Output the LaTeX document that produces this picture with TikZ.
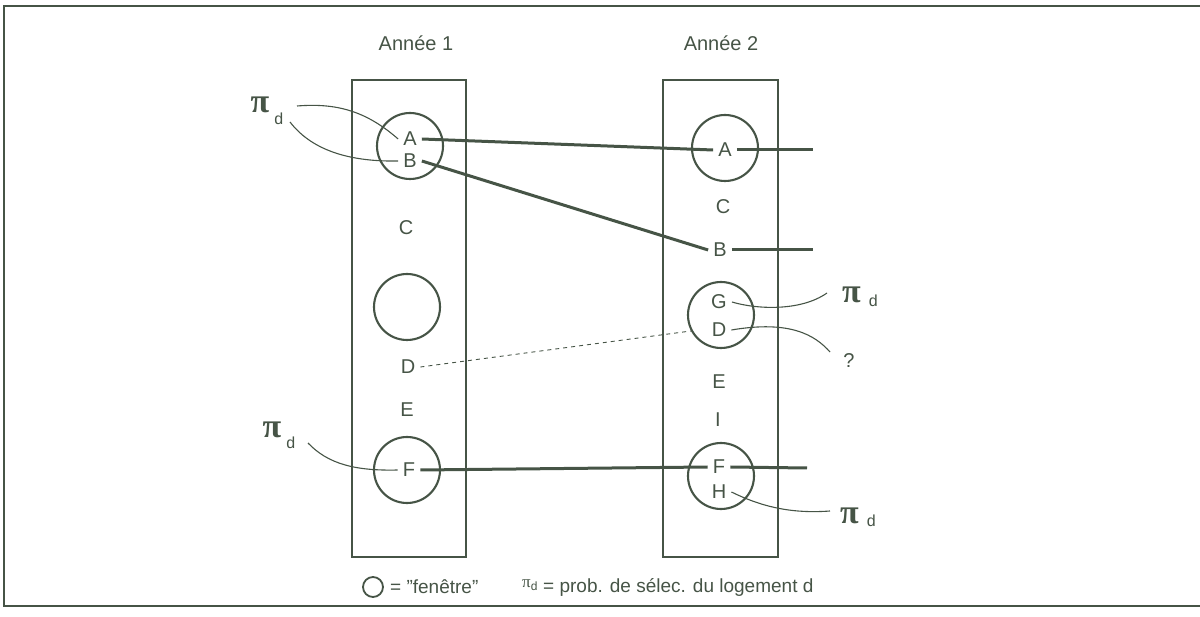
\documentclass[tikz,border=0pt]{standalone}
\usepackage{fontspec}
\setmainfont{Liberation Sans}
\newfontfamily\pifont{Liberation Serif}
\definecolor{ink}{RGB}{70,84,70}
\newcommand\pid[3]{{\pifont\bfseries\fontsize{34}{34}\selectfont π}\hspace{#3}\raisebox{-#2}{\fontsize{16}{16}\selectfont d}}
\begin{document}
\begin{tikzpicture}[x=1pt,y=-1pt,
  every node/.style={text=ink},
  lbl/.style={font=\fontsize{20}{22}\selectfont, inner sep=5pt},
  ttl/.style={font=\fontsize{20}{22}\selectfont, inner sep=1pt},
  leg/.style={font=\fontsize{19}{21}\selectfont, inner sep=0pt, anchor=west},
  win/.style={draw=ink, line width=2.1pt, circle, minimum size=66pt, inner sep=0pt},
  boxline/.style={draw=ink, line width=2.3pt},
  link/.style={draw=ink, line width=3pt},
  thin/.style={draw=ink, line width=1.1pt},
  dashline/.style={draw=ink, line width=0.9pt, dash pattern=on 4pt off 4pt},
]
\useasboundingbox (0,0) rectangle (1200,617);
% frame
\draw[boxline] (1200,6) -- (4,6) -- (4,606) -- (1200,606);
% titles
\node[ttl] (t1) at (416,43) {Année 1};
\node[ttl] (t2) at (721,43) {Année 2};
% boxes
\draw[boxline] (352,80) rectangle (466,557);
\draw[boxline] (663,80) rectangle (778,557);
% left column
\node[win] (w1) at (410,146) {};
\node[lbl] (A1) at (410,139) {A};
\node[lbl] (B1) at (410,161) {B};
\node[lbl] (C1) at (406,228) {C};
\node[win] (w2) at (407,307) {};
\node[lbl] (D1) at (408,367) {D};
\node[lbl] (E1) at (407,410) {E};
\node[win] (w3) at (407,470) {};
\node[lbl] (F1) at (409,470) {F};
% right column
\node[win] (w4) at (725,148) {};
\node[lbl] (A2) at (725,150) {A};
\node[lbl] (C2) at (723,207) {C};
\node[lbl] (B2) at (720,250) {B};
\node[win] (w5) at (721,315) {};
\node[lbl] (G2) at (719,302) {G};
\node[lbl] (D2) at (719,330) {D};
\node[lbl] (E2) at (719,382) {E};
\node[lbl] (I2) at (718,420) {I};
\node[win] (w6) at (721,476) {};
\node[lbl] (F2) at (719,467) {F};
\node[lbl] (H2) at (719,492) {H};
% pi labels
\node[inner sep=0pt] (p1) at (267,111) {\pid{30}{12pt}{5pt}};
\node[inner sep=0pt] (p2) at (279,435) {\pid{30}{11pt}{5pt}};
\node[inner sep=0pt] (p3) at (860,297) {\pid{30}{4pt}{8pt}};
\node[inner sep=0pt] (p4) at (858,517) {\pid{30}{3pt}{8pt}};
\node[font=\fontsize{20}{22}\selectfont, inner sep=1pt] (q) at (849,361) {?};
\coordinate (c1) at (297,106);
\coordinate (c2) at (290,122);
\coordinate (c3) at (308,443);
\coordinate (c4) at (827,293);
\coordinate (c5) at (830,352);
\coordinate (c6) at (830,511);
\coordinate (a2end) at (813,150);
\coordinate (b2end) at (813,250);
\coordinate (f2end) at (807,468);
% thick links
\draw[link] (A1.east) -- (A2.west);
\draw[link] (B1.east) -- (B2.west);
\draw[link] (F1.east) -- (F2.west);
\draw[link] (A2.east) -- (a2end);
\draw[link] (B2.east) -- (b2end);
\draw[link] (F2.east) -- (f2end);
% dashed
\draw[dashline] (D1.east) -- (w5.208);
% thin curves
\draw[thin] (c1) .. controls (335,103) and (365,110) .. (A1.west);
\draw[thin] (c2) .. controls (310,148) and (345,162) .. (B1.west);
\draw[thin] (c3) .. controls (328,464) and (355,471) .. (F1.west);
\draw[thin] (G2.east) .. controls (755,309) and (800,312) .. (c4);
\draw[thin] (D2.east) .. controls (790,320) and (815,335) .. (c5);
\draw[thin] (H2.east) .. controls (760,506) and (790,514) .. (c6);
% legend
\node[draw=ink, line width=1.8pt, circle, minimum size=20pt, inner sep=0pt] (lc) at (373,587) {};
\node[leg] (lt1) at (390,587) {= "fenêtre"};
\node[leg] (lp) at (522,585) {{\pifont\fontsize{17}{17}\selectfont π}\raisebox{-3pt}{\fontsize{12}{12}\selectfont d}};
\node[leg] (lt2) at (543,587) {= prob. de sélec. du logement d};
\end{tikzpicture}
\end{document}
